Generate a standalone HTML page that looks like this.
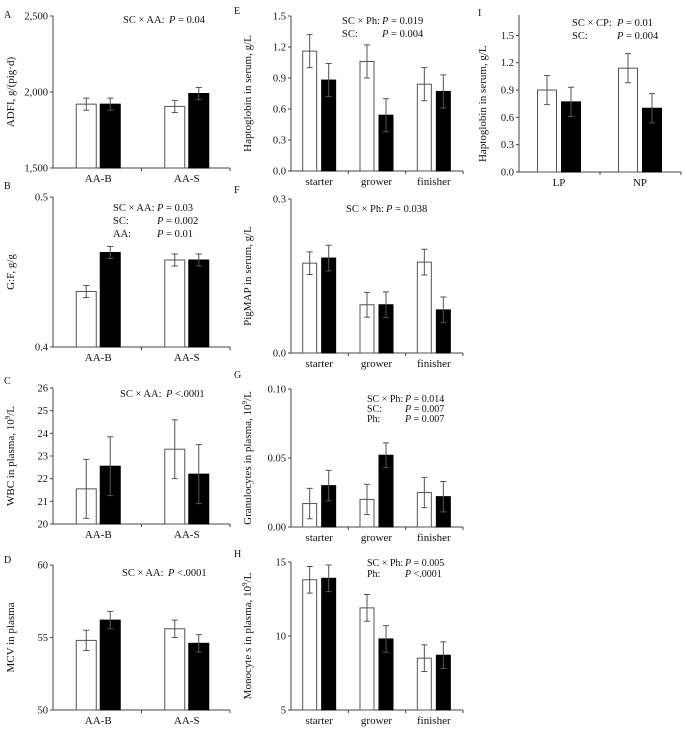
<!DOCTYPE html>
<html><head><meta charset="utf-8"><style>
body{margin:0;background:#fff}
svg{display:block}
svg text{font-family:"Liberation Serif","DejaVu Serif",serif}
</style></head><body>
<svg id="fig" width="686" height="732" viewBox="0 0 686 732" xmlns="http://www.w3.org/2000/svg" font-family="Liberation Serif, serif"></svg>
<script>
// ---- data ----
const catsAA = ["AA-B","AA-S"];
const catsPh = ["starter","grower","finisher"];
const catsCP = ["LP","NP"];
const aWhite = [1920,1905], aBlack = [1920,1990], aErr = [40,40,40,40];
const bWhite = [0.437,0.458], bBlack = [0.463,0.458], bErr = [0.004,0.004,0.004,0.004];
const cWhite = [21.55,23.3], cBlack = [22.55,22.2], cErr = [1.3,1.3,1.3,1.3];
const dWhite = [54.8,55.6], dBlack = [56.2,54.6], dErr = [0.7,0.6,0.6,0.6];
const eWhite = [1.16,1.06,0.84], eBlack = [0.88,0.54,0.77], eErr = [0.16,0.16,0.16,0.16,0.16,0.16];
const fWhite = [0.175,0.094,0.177], fBlack = [0.185,0.094,0.084], fErr = [0.022,0.025,0.024,0.025,0.025,0.025];
const gWhite = [0.017,0.020,0.025], gBlack = [0.030,0.052,0.022], gErr = [0.011,0.011,0.011,0.009,0.011,0.011];
const hWhite = [13.8,11.9,8.5], hBlack = [13.9,9.8,8.7], hErr = [0.9,0.9,0.9,0.9,0.9,0.9];
const iWhite = [0.90,1.14], iBlack = [0.77,0.70], iErr = [0.16,0.16,0.16,0.16];
const aTicks = [1500,2000,2500], aTickLabels = ["1,500","2,000","2,500"];
const bTicks = [0.4,0.5], bTickLabels = ["0.4","0.5"];
const cTicks = [20,21,22,23,24,25,26], cTickLabels = ["20","21","22","23","24","25","26"];
const dTicks = [50,55,60], dTickLabels = ["50","55","60"];
const eTicks = [0,0.3,0.6,0.9,1.2,1.5], eTickLabels = ["0.0","0.3","0.6","0.9","1.2","1.5"];
const fTicks = [0,0.3], fTickLabels = ["0.0","0.3"];
const gTicks = [0,0.05,0.10], gTickLabels = ["0.00","0.05","0.10"];
const hTicks = [5,10,15], hTickLabels = ["5","10","15"];
const iTicks = [0,0.3,0.6,0.9,1.2,1.5], iTickLabels = ["0.0","0.3","0.6","0.9","1.2","1.5"];

const NS = "http://www.w3.org/2000/svg";
const svg = document.getElementById("fig");
const FF = "Liberation Serif, serif";
function mk(tag, attrs, parent, text){
  const e = document.createElementNS(NS, tag);
  for (const k in attrs) e.setAttribute(k, attrs[k]);
  if (tag === "text") e.setAttribute("font-family", FF);
  if (text !== undefined) e.textContent = text;
  (parent || svg).appendChild(e);
  return e;
}

function panel(p){
  const g = mk("g", {});
  
  
  const y = v => p.yBot - (v - p.min) / (p.max - p.min) * (p.yBot - p.yTop);
  const n = p.cats.length;
  const cw = (p.x1 - p.x0) / n;
  const cx = i => p.x0 + (i + 0.5) * cw + p.shift;
  const ya = mk("line", {x1:p.x0, y1:p.axTop || p.yTop, x2:p.x0, y2:p.yBot, stroke:"#444", "stroke-width":1}, g);
  
  
  const xa = mk("line", {x1:p.x0, y1:p.yBot, x2:p.x1, y2:p.yBot, stroke:"#444", "stroke-width":1}, g);
  
  
  p.ticks.forEach((t, k) => {
    mk("line", {x1:p.x0 - 3, y1:y(t), x2:p.x0, y2:y(t), stroke:"#444"}, g);
    const tl = mk("text", {x:p.x0 - 5, y:y(t) + 3.5, "font-size":10.5, "text-anchor":"end", fill:"#111"}, g, p.tickLabels[k]);
    
    
  });
  for (let i = 1; i <= n; i++) {
    const tx = p.x0 + i * cw;
    mk("line", {x1:tx, y1:p.yBot, x2:tx, y2:p.yBot + 3, stroke:"#444"}, g);
  }
  p.cats.forEach((c, i) => {
    const cl = mk("text", {x:cx(i), y:p.yBot + 14, "font-size":11, "text-anchor":"middle", fill:"#111"}, g, c);
    
    
    [[p.white[i], "#fff", -1, p.err[2*i]], [p.black[i], "#000", 1, p.err[2*i+1]]].forEach(([v, fill, side, e]) => {
      const bx = side < 0 ? cx(i) - p.gap/2 - p.bw : cx(i) + p.gap/2;
      const r = mk("rect", {x:bx, y:y(v), width:p.bw, height:p.yBot - y(v), fill:fill, stroke: side < 0 ? "#555" : "#000", "stroke-width":1}, g);
      
      
      const mx = bx + p.bw/2;
      const eb = mk("path", {d:`M${mx},${y(v+e)}V${y(v-e)}M${mx-3},${y(v+e)}H${mx+3}M${mx-3},${y(v-e)}H${mx+3}`, stroke:"#555", "stroke-width":1, fill:"none"}, g);
      
      
    });
  });
  const ty = (p.yTop + p.yBot) / 2;
  const yt = mk("text", {x:p.titleX, y:ty, "font-size":11, "text-anchor":"middle", transform:`rotate(-90 ${p.titleX} ${ty})`, fill:"#111"}, g);
  yt.innerHTML = p.title;
  
  
  const lt = mk("text", {x:p.lx, y:p.ly, "font-size":10, fill:"#111"}, g, p.letter);
  
  
  p.ann.forEach((a, k) => {
    const at = mk("text", {x:p.ax, y:p.ay + k * p.alh, "font-size":p.afs || 10.5, fill:"#111"}, g);
    at.innerHTML = a[0] + `<tspan x="${p.ax + p.pOff}" font-style="italic">P</tspan> ${a[1]}`;
    
    
  });
}

const L = {x0:53, x1:230, shift:1, bw:20, gap:4, titleX:14, cats:catsAA};
const M = {x0:291, x1:463, shift:-0.5, bw:14, gap:5, titleX:251, cats:catsPh};

panel(Object.assign({}, L, {name:"panel-a", yTop:16, yBot:168, min:1500, max:2500, ticks:aTicks, tickLabels:aTickLabels, white:aWhite, black:aBlack, err:aErr, title:"ADFI, g/(pig·d)", letter:"A", lx:4, ly:18, ax:123, ay:23, alh:13, pOff:46, ann:[["SC × AA:", "= 0.04"]]}));
panel(Object.assign({}, L, {name:"panel-b", yTop:197, yBot:347, min:0.4, max:0.5, ticks:bTicks, tickLabels:bTickLabels, white:bWhite, black:bBlack, err:bErr, title:"G:F, g/g", letter:"B", lx:4, ly:189, ax:113, ay:211, alh:13, pOff:44, ann:[["SC × AA:", "= 0.03"],["SC:", "= 0.002"],["AA:", "= 0.01"]]}));
panel(Object.assign({}, L, {name:"panel-c", yTop:388, yBot:524, min:20, max:26, ticks:cTicks, tickLabels:cTickLabels, white:cWhite, black:cBlack, err:cErr, title:"WBC in plasma, 10<tspan dy='-4' font-size='7'>9</tspan><tspan dy='4'>/L</tspan>", letter:"C", lx:4, ly:384, ax:120, ay:397, alh:13, pOff:46, ann:[["SC × AA:", "&lt;.0001"]]}));
panel(Object.assign({}, L, {name:"panel-d", yTop:565, yBot:710, min:50, max:60, ticks:dTicks, tickLabels:dTickLabels, white:dWhite, black:dBlack, err:dErr, title:"MCV in plasma", letter:"D", lx:4, ly:563, ax:122, ay:576, alh:13, pOff:46, ann:[["SC × AA:", "&lt;.0001"]]}));
panel(Object.assign({}, M, {name:"panel-e", yTop:16, yBot:171, min:0, max:1.5, ticks:eTicks, tickLabels:eTickLabels, white:eWhite, black:eBlack, err:eErr, title:"Haptoglobin in serum, g/L", letter:"E", lx:234, ly:14, ax:342, ay:24, alh:13, pOff:40, ann:[["SC × Ph:", "= 0.019"],["SC:", "= 0.004"]]}));
panel(Object.assign({}, M, {name:"panel-f", yTop:199, yBot:353, min:0, max:0.3, ticks:fTicks, tickLabels:fTickLabels, white:fWhite, black:fBlack, err:fErr, title:"PigMAP in serum, g/L", letter:"F", lx:234, ly:193, ax:346, ay:212, alh:13, pOff:40, ann:[["SC × Ph:", "= 0.038"]]}));
panel(Object.assign({}, M, {name:"panel-g", yTop:389, yBot:527, min:0, max:0.10, ticks:gTicks, tickLabels:gTickLabels, white:gWhite, black:gBlack, err:gErr, title:"Granulocytes in plasma, 10<tspan dy='-4' font-size='7'>9</tspan><tspan dy='4'>/L</tspan>", letter:"G", lx:234, ly:378, ax:367, ay:402, alh:10, afs:10, pOff:38, ann:[["SC × Ph:", "= 0.014"],["SC:", "= 0.007"],["Ph:", "= 0.007"]]}));
panel(Object.assign({}, M, {name:"panel-h", yTop:562, yBot:710, min:5, max:15, ticks:hTicks, tickLabels:hTickLabels, white:hWhite, black:hBlack, err:hErr, title:"Monocyte s in plasma, 10<tspan dy='-4' font-size='7'>9</tspan><tspan dy='4'>/L</tspan>", letter:"H", lx:234, ly:557, ax:367, ay:566, alh:11, afs:10, pOff:38, ann:[["SC × Ph:", "= 0.005"],["Ph:", "&lt;.0001"]]}));
panel({name:"panel-i", x0:519, x1:681, shift:-0.5, bw:19, gap:5, titleX:486, cats:catsCP, yTop:35.4, axTop:15, yBot:172, min:0, max:1.5, ticks:iTicks, tickLabels:iTickLabels, white:iWhite, black:iBlack, err:iErr, title:"Haptoglobin in serum, g/L", letter:"I", lx:478, ly:16, ax:572, ay:26, alh:13, pOff:45, ann:[["SC × CP:", "= 0.01"],["SC:", "= 0.004"]]});
</script>
</body></html>
